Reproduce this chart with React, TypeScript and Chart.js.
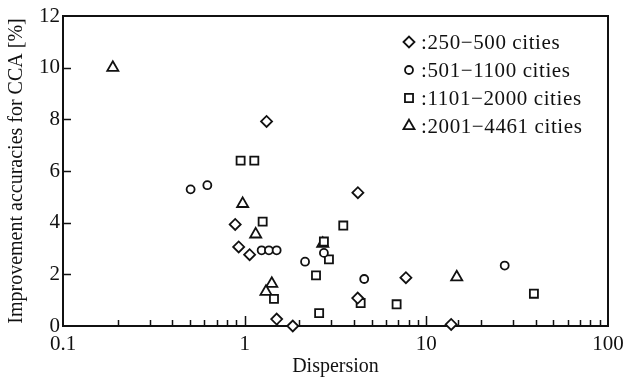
import React, { useEffect, useRef } from 'react';
import { Chart, registerables } from 'chart.js';

Chart.register(...registerables);

const FONT = '"Liberation Serif", "Times New Roman", serif';

const seriesLabels = [':250\u2212500 cities', ':501\u22121100 cities', ':1101\u22122000 cities', ':2001\u22124461 cities'];
const seriesStyles = ['rectRot', 'circle', 'rect', 'triangle'];

const diamondX = [1.32, 0.887, 0.927, 1.065, 1.5, 1.84, 4.2, 4.19, 7.72, 13.7];
const diamondY = [7.92, 3.93, 3.06, 2.76, 0.27, 0.0, 5.16, 1.08, 1.87, 0.06];

const circleX = [0.504, 0.623, 1.24, 1.36, 1.5, 2.15, 2.73, 4.55, 27.0];
const circleY = [5.29, 5.45, 2.93, 2.93, 2.93, 2.49, 2.83, 1.82, 2.34];

const squareX = [0.95, 1.13, 1.256, 1.45, 2.47, 3.49, 2.73, 2.91, 2.57, 4.35, 6.86, 39.1];
const squareY = [6.4, 6.4, 4.04, 1.05, 1.96, 3.89, 3.27, 2.58, 0.5, 0.89, 0.84, 1.25];

const triangleX = [0.188, 0.975, 1.15, 1.41, 1.31, 2.69, 14.7];
const triangleY = [10.0, 4.73, 3.55, 1.64, 1.33, 3.19, 1.89];

const xTickValues = [0.1, 1, 10, 100];
const xTickLabels = ['0.1', '1', '10', '100'];
const yTickLabels = ['0', '2', '4', '6', '8', '10', '12'];

const radii = [5.5, 4, 5.7, 6.4];

function pts(xs: number[], ys: number[]) {
  return xs.map((x, i) => ({ x, y: ys[i] }));
}

function drawMarker(ctx: CanvasRenderingContext2D, style: string, x: number, y: number, r: number) {
  ctx.beginPath();
  if (style === 'rectRot') {
    ctx.moveTo(x - r, y);
    ctx.lineTo(x, y - r);
    ctx.lineTo(x + r, y);
    ctx.lineTo(x, y + r);
    ctx.closePath();
  } else if (style === 'circle') {
    ctx.arc(x, y, r, 0, Math.PI * 2);
  } else if (style === 'rect') {
    const s = Math.SQRT1_2 * r;
    ctx.rect(x - s, y - s, 2 * s, 2 * s);
  } else {
    ctx.moveTo(x, y - r);
    ctx.lineTo(x + r * Math.sin((2 * Math.PI) / 3), y - r * Math.cos((2 * Math.PI) / 3));
    ctx.lineTo(x + r * Math.sin((4 * Math.PI) / 3), y - r * Math.cos((4 * Math.PI) / 3));
    ctx.closePath();
  }
  ctx.fill();
  ctx.stroke();
}

const frameTicksPlugin = {
  id: 'frameTicks',
  beforeDatasetsDraw(chart: any) {
    const { ctx, chartArea: a, scales } = chart;
    const x = scales.x;
    const y = scales.y;
    ctx.save();
    ctx.strokeStyle = '#111';
    ctx.lineWidth = 2;
    ctx.beginPath();
    ctx.moveTo(a.left, a.top);
    ctx.lineTo(a.right, a.top);
    ctx.lineTo(a.right, a.bottom);
    ctx.stroke();
    ctx.lineWidth = 1.5;
    ctx.beginPath();
    x.ticks.forEach((t: any) => {
      const px = x.getPixelForValue(t.value);
      const major = xTickValues.some((v) => Math.abs(v - t.value) < v * 1e-6);
      if (px <= a.left + 1 || px >= a.right - 1) return;
      ctx.moveTo(Math.round(px) + 0.5, a.bottom);
      ctx.lineTo(Math.round(px) + 0.5, a.bottom - (major ? 10 : 6));
    });
    y.ticks.forEach((t: any) => {
      const py = y.getPixelForValue(t.value);
      if (py <= a.top + 1 || py >= a.bottom - 1) return;
      ctx.moveTo(a.left, Math.round(py) + 0.5);
      ctx.lineTo(a.left + 8, Math.round(py) + 0.5);
    });
    ctx.stroke();
    ctx.restore();
  },
};

const legendPlugin = {
  id: 'innerLegend',
  afterDraw(chart: any) {
    const { ctx, chartArea: a } = chart;
    ctx.save();
    ctx.font = `21px ${FONT}`;
    (ctx as any).letterSpacing = '0.6px';
    ctx.textBaseline = 'middle';
    ctx.textAlign = 'left';
    chart.data.datasets.forEach((ds: any, i: number) => {
      const cy = a.top + 26 + i * 28;
      const mx = a.right - 199;
      ctx.strokeStyle = '#111';
      ctx.fillStyle = '#fff';
      ctx.lineWidth = 1.8;
      drawMarker(ctx, ds.pointStyle, mx, cy, ds.pointRadius);
      ctx.fillStyle = '#111';
      ctx.fillText(ds.label, mx + 12, cy + 1);
    });
    ctx.restore();
  },
};

export default function App() {
  const ref = useRef<HTMLCanvasElement>(null);

  useEffect(() => {
    if (!ref.current) return;
    const sets = [
      pts(diamondX, diamondY),
      pts(circleX, circleY),
      pts(squareX, squareY),
      pts(triangleX, triangleY),
    ];
    const chart = new Chart(ref.current, {
      type: 'scatter',
      data: {
        datasets: sets.map((d, i) => ({
          label: seriesLabels[i],
          data: d,
          pointStyle: seriesStyles[i] as any,
          pointRadius: radii[i],
          pointBorderWidth: 1.8,
          borderColor: '#111',
          backgroundColor: '#fff',
          clip: false as any,
        })),
      },
      options: {
        responsive: false,
        animation: false,
        devicePixelRatio: 1,
        layout: { padding: { top: 16, right: 25, left: 0, bottom: 0 } },
        plugins: {
          legend: { display: false },
          tooltip: { enabled: false },
        },
        scales: {
          x: {
            type: 'logarithmic',
            min: 0.1,
            max: 100,
            afterFit: (s: any) => {
              s.height = 53;
            },
            grid: { display: true, drawOnChartArea: false, drawTicks: false },
            border: { display: true, color: '#111', width: 2 },
            ticks: {
              autoSkip: false,
              maxRotation: 0,
              padding: 6,
              color: '#111',
              font: { family: FONT, size: 21 },
              callback: (v: any) => {
                const idx = xTickValues.findIndex((t) => Math.abs(t - Number(v)) < t * 1e-6);
                return idx >= 0 ? xTickLabels[idx] : '';
              },
            },
            title: {
              display: true,
              text: 'Dispersion',
              color: '#111',
              font: { family: FONT, size: 20 },
              padding: { top: 0, bottom: 0 },
            },
          },
          y: {
            min: 0,
            max: 12,
            afterFit: (s: any) => {
              s.width = 63;
            },
            grid: { display: true, drawOnChartArea: false, drawTicks: false },
            border: { display: true, color: '#111', width: 2 },
            ticks: {
              stepSize: 2,
              padding: 3,
              color: '#111',
              font: { family: FONT, size: 21 },
              callback: (v: any, i: number) => yTickLabels[i] ?? String(v),
            },
            title: {
              display: true,
              text: 'Improvement accuracies for CCA [%]',
              color: '#111',
              font: { family: FONT, size: 20 },
              padding: { top: 5, bottom: 0 },
            },
          },
        },
      },
      plugins: [frameTicksPlugin, legendPlugin],
    });
    return () => chart.destroy();
  }, []);

  return (
    <div style={{ position: 'absolute', left: 0, top: 0, width: 633, height: 379, background: '#fff' }}>
      <canvas ref={ref} width={633} height={379} style={{ display: 'block', width: 633, height: 379 }} />
    </div>
  );
}
